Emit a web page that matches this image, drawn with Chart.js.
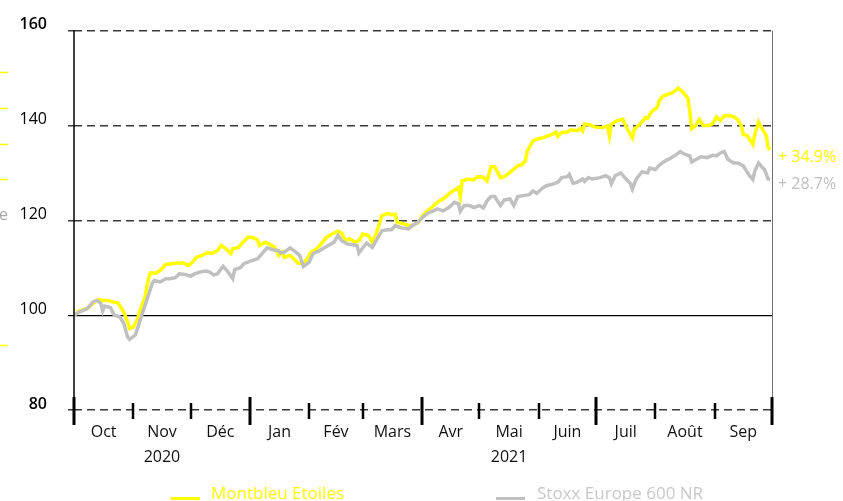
<!DOCTYPE html>
<html><head><meta charset="utf-8">
<script src="https://cdn.jsdelivr.net/npm/chart.js@4.4.0/dist/chart.umd.min.js"></script>
<style>html,body{margin:0;padding:0;background:#fff}#wrap{width:843px;height:501px;position:relative;overflow:hidden}</style>
</head><body><div id="wrap"><canvas id="c" width="843" height="501"></canvas></div>
<script>
// Days since 1 Oct 2020
const monthStarts = [0,31,61,92,123,151,182,212,243,273,304,335,365];
const quarterStarts = [0,92,182,273,365];
const monthLabels = ['Oct',['Nov','2020'],'Déc','Jan','Fév','Mars','Avr',['Mai','2021'],'Juin','Juil','Août','Sep'];
const yTicks = [80,100,120,140,160];
const seriesNames = ['Montbleu Etoiles','Stoxx Europe 600 NR'];
const endLabels = ['+ 34.9%','+ 28.7%'];

const yellowDays = [0,3,7,10,13,15,18,20,23,26,
 28,29,31,33,35,37,39,40,43,45,
 48,50,54,57,60,62,64,67,70,72,
 75,77,80,82,83,86,88,91,93,96,
 97,100,102,105,107,109,110,113,116,117,
 120,122,124,127,130,132,135,138,140,142,
 144,147,149,151,154,156,158,161,164,166,
 168,169,172,175,177,180,182,184,187,190,
 194,197,199,201,202,203,206,209,211,214,
 216,218,220,223,225,228,230,232,234,236,
 237,240,242,245,247,250,252,253,255,258,
 260,263,265,266,267,270,272,276,279,280,
 281,284,287,289,292,293,296,299,300,302,
 305,306,308,311,313,316,318,321,322,323,
 325,327,329,332,334,336,338,340,343,345,
 347,349,350,352,355,356,358,360,362,363,
 364];
const yellowValues = [100.0,100.9,101.4,102.5,103.3,103.1,103.1,102.8,102.6,100.7,
 98.6,97.2,97.5,99.0,101.5,103.6,107.8,108.9,108.9,109.4,
 110.7,110.8,111.0,111.0,110.5,111.2,112.2,112.6,113.2,113.0,
 113.6,114.7,113.8,113.0,114.0,114.3,115.2,116.4,116.4,115.9,
 114.7,115.4,115.0,114.3,112.6,113.3,112.2,112.6,111.5,111.0,
 110.9,111.9,113.3,114.0,115.4,116.4,117.1,117.7,117.3,115.7,
 116.1,115.4,115.7,117.1,116.8,115.4,117.1,121.0,121.4,121.2,
 121.3,119.6,119.3,118.9,118.9,119.5,120.8,121.7,122.7,123.8,
 124.8,125.9,126.4,126.9,125.0,128.3,128.7,128.5,129.2,129.1,
 128.3,131.3,131.3,129.0,129.2,130.1,130.8,131.5,131.7,132.5,
 134.6,136.7,137.1,137.4,137.7,138.1,138.6,137.7,138.5,138.6,
 139.1,138.9,139.4,138.9,140.3,140.1,139.7,139.5,139.9,137.8,
 140.3,141.0,141.3,139.5,137.4,139.2,140.3,141.7,141.5,142.9,
 143.8,145.2,146.2,146.6,146.9,147.9,147.2,145.8,143.0,139.3,
 139.9,141.3,140.0,140.0,140.4,141.8,141.0,142.0,142.1,141.8,
 141.3,139.9,138.1,137.9,136.0,138.1,140.7,139.2,137.9,135.3,
 134.9];

const grayDays = [0,3,7,10,12,14,15,16,19,21,
 24,26,28,29,32,33,36,38,41,42,
 45,48,50,53,55,58,61,63,66,69,
 71,73,75,78,80,83,84,87,89,91,
 93,96,99,101,104,107,108,110,113,116,
 118,120,123,125,128,130,133,136,138,140,
 143,145,148,149,151,153,156,158,161,164,
 166,168,171,175,177,180,182,185,188,190,
 193,196,199,201,202,204,207,209,212,214,
 216,218,220,223,225,228,230,232,235,238,
 240,242,245,247,250,253,255,258,259,261,
 263,266,267,269,271,275,278,280,281,283,
 286,288,291,292,294,297,300,301,304,306,
 309,311,314,317,319,322,323,326,328,331,
 334,336,338,340,342,345,347,350,353,355,
 356,358,360,361,363,364];
const grayValues = [100.0,100.7,101.4,102.8,103.1,102.5,100.9,101.9,101.6,100.0,
 99.6,98.3,95.4,94.9,95.8,96.9,100.7,103.1,106.8,107.3,
 107.0,107.7,107.7,107.9,108.7,108.6,108.2,108.7,109.1,109.3,
 109.1,108.5,108.7,110.3,109.4,107.7,109.6,110.0,110.9,111.2,
 111.5,111.9,113.3,114.2,113.8,113.6,113.1,113.3,114.2,113.3,
 112.6,110.3,111.2,113.0,113.5,114.0,114.7,115.4,116.8,115.7,
 115.0,114.9,114.7,113.1,114.2,115.2,114.3,115.7,117.8,118.0,
 118.0,118.9,118.4,118.2,118.9,119.6,120.5,121.5,122.0,122.4,
 122.0,122.7,123.8,123.5,121.9,123.1,123.1,122.7,123.1,122.6,
 124.1,125.0,125.0,123.1,124.3,124.5,123.1,125.0,125.2,125.4,
 126.2,125.7,126.8,127.3,127.6,128.0,129.0,129.2,129.7,127.8,
 128.0,128.7,128.2,129.0,128.7,129.0,129.4,129.0,127.7,129.4,
 130.0,129.0,127.7,126.6,128.7,130.2,130.0,131.0,130.7,131.6,
 132.5,132.9,133.6,134.5,134.0,133.6,132.3,133.0,133.4,133.2,
 133.7,133.6,134.2,134.5,132.8,132.1,132.1,131.5,129.5,128.6,
 130.4,132.1,131.1,130.8,128.7,128.6];

const YELLOW = '#ffff00';
const GRAY = '#c0c0c0';
const FONT = "'Open Sans', 'DejaVu Sans', sans-serif";

const toPts = (d, v) => d.map((x, i) => ({x: x, y: v[i]}));
const midMonths = monthLabels.map((_, i) => (monthStarts[i] + monthStarts[i+1]) / 2);

const decor = {
  id: 'decor',
  afterDraw(chart) {
    const ctx = chart.ctx, xs = chart.scales.x, ys = chart.scales.y, a = chart.chartArea;
    ctx.save();
    // right border
    ctx.strokeStyle = '#6e6e6e'; ctx.lineWidth = 1;
    ctx.beginPath(); ctx.moveTo(a.right + 0.5, a.top); ctx.lineTo(a.right + 0.5, a.bottom); ctx.stroke();
    // left axis
    ctx.strokeStyle = '#000'; ctx.lineWidth = 1.5;
    ctx.beginPath(); ctx.moveTo(a.left, a.top); ctx.lineTo(a.left, a.bottom + 15); ctx.stroke();
    // month boundary ticks
    const yb = ys.getPixelForValue(80);
    monthStarts.forEach(d => {
      const px = Math.round(xs.getPixelForValue(d));
      const q = quarterStarts.includes(d);
      ctx.lineWidth = q ? 3 : 2.5;
      ctx.beginPath();
      ctx.moveTo(px, yb - (q ? 13 : 7));
      ctx.lineTo(px, yb + (q ? 15 : 9));
      ctx.stroke();
    });
    // end labels
    ctx.font = '16px ' + FONT; ctx.textBaseline = 'middle'; ctx.textAlign = 'left';
    const ly = yellowValues[yellowValues.length - 1], lg = grayValues[grayValues.length - 1];
    ctx.fillStyle = YELLOW; ctx.fillText(endLabels[0], a.right + 6, ys.getPixelForValue(ly) + 8);
    ctx.fillStyle = GRAY; ctx.fillText(endLabels[1], a.right + 6, ys.getPixelForValue(lg) + 5);
    // legend
    ctx.font = '17px ' + FONT; ctx.textBaseline = 'alphabetic';
    ctx.lineWidth = 3;
    ctx.strokeStyle = YELLOW;
    ctx.beginPath(); ctx.moveTo(171, 498.5); ctx.lineTo(200, 498.5); ctx.stroke();
    ctx.fillStyle = YELLOW; ctx.fillText(seriesNames[0], 211, 499);
    ctx.strokeStyle = GRAY;
    ctx.beginPath(); ctx.moveTo(496, 498.5); ctx.lineTo(525, 498.5); ctx.stroke();
    ctx.fillStyle = '#c8c8c8'; ctx.fillText(seriesNames[1], 537, 499);
    // clipped fragments at the left edge
    ctx.strokeStyle = YELLOW; ctx.lineWidth = 1.5;
    [72, 108, 144, 179, 345].forEach(y => { ctx.beginPath(); ctx.moveTo(0, y + 0.5); ctx.lineTo(8, y + 0.5); ctx.stroke(); });
    ctx.fillStyle = '#a8a8a8'; ctx.font = '16px ' + FONT; ctx.textAlign = 'right'; ctx.textBaseline = 'middle';
    ctx.fillText('e', 8, 215);
    ctx.restore();
  }
};

new Chart(document.getElementById('c'), {
  type: 'line',
  data: {
    datasets: [
      {label: seriesNames[0], data: toPts(yellowDays, yellowValues), borderColor: YELLOW, borderWidth: 3.5, pointRadius: 0, tension: 0, order: 1},
      {label: seriesNames[1], data: toPts(grayDays, grayValues), borderColor: GRAY, borderWidth: 3.5, pointRadius: 0, tension: 0, order: 0}
    ]
  },
  options: {
    responsive: false, animation: false, devicePixelRatio: 1,
    layout: {padding: {top: 29, right: 71, bottom: 0, left: 0}},
    plugins: {legend: {display: false}, tooltip: {enabled: false}},
    scales: {
      x: {
        type: 'linear', min: 0, max: 365,
        afterBuildTicks: s => { s.ticks = midMonths.map(v => ({value: v})); },
        afterFit: s => { s.height = 91; },
        grid: {display: false, drawTicks: false},
        border: {display: false},
        ticks: {
          autoSkip: false, maxRotation: 0, padding: 10, color: '#111',
          font: {family: FONT, size: 16, lineHeight: 1.55},
          callback: (v, i) => monthLabels[i]
        }
      },
      y: {
        min: 80, max: 160,
        afterBuildTicks: s => { s.ticks = yTicks.map(v => ({value: v})); },
        afterFit: s => { s.width = 74; },
        grid: {
          drawTicks: true, tickLength: 6,
          color: ctx => (ctx.tick && ctx.tick.value === 100) ? '#000' : '#3a3a3a',
          lineWidth: ctx => (ctx.tick && ctx.tick.value === 100) ? 1.2 : 1.5
        },
        border: {
          display: false,
          dash: ctx => (ctx.tick && ctx.tick.value === 100) ? [] : [8, 5]
        },
        ticks: {
          padding: 21, color: '#000', labelOffset: -6,
          font: ctx => ({family: FONT, size: 16, weight: (ctx.tick && (ctx.tick.value === 160 || ctx.tick.value === 80)) ? '600' : '400'}),
          callback: v => String(v)
        }
      }
    }
  },
  plugins: [decor]
});
</script>
</body></html>
